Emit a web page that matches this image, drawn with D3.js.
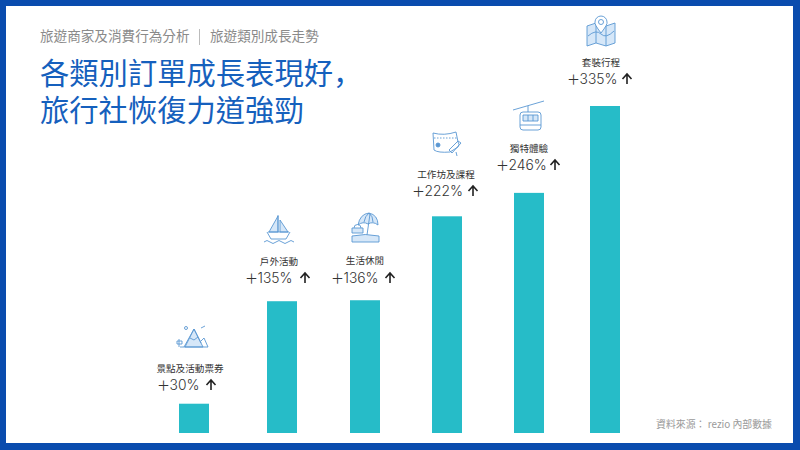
<!DOCTYPE html>
<html lang="zh-Hant">
<head>
<meta charset="utf-8">
<script src="https://cdn.jsdelivr.net/npm/d3@7/dist/d3.min.js"></script>
<style>
html,body{margin:0;padding:0;background:#fff}
svg{display:block}
text{font-family:"Noto Sans CJK TC","Noto Sans",sans-serif}
.num{font-family:Inter,Roboto,sans-serif;font-weight:400}
</style>
</head>
<body>
<svg id="c" width="800" height="450"></svg>
<script>
const categories = ["景點及活動票券","戶外活動","生活休閒","工作坊及課程","獨特體驗","套裝行程"];
const growth = [30,135,136,222,246,335];
const valueLabels = ["30%","135%","136%","222%","246%","335%"];
const iconNames = ["mountain","boat","umbrella","ticket","cable","map"];

const barLeft = [179,267,350,432,514,590];
const labelCenter = [190,279,365,446,529,601];
const labelBaseline = [372,265,264,178,152,66];
const valueBaseline = [390,283,283,196,170,84];
const valueStart = [158,246,332,413,497,568];
const arrowCenter = [211,305,390,473,555,627];
const iconBox = [[177,326],[264,214],[351,213],[432,130],[513,102],[586,16]];

const W=800,H=450;
const svg=d3.select("#c");
svg.append("rect").attr("width",W).attr("height",H).attr("fill","#0a4cae");
svg.append("rect").attr("x",6).attr("y",6).attr("width",787).attr("height",437).attr("fill","#fff");

const y=d3.scaleLinear().domain([0,335]).range([433,106]);
const x=d3.scaleOrdinal().domain(categories).range(barLeft);
const barW=30;

svg.append("g").selectAll("rect").data(categories).join("rect")
  .attr("x",d=>x(d)).attr("width",barW)
  .attr("y",(d,i)=>y(growth[i])).attr("height",(d,i)=>y(0)-y(growth[i]))
  .attr("fill","#26bcc8");

// titles
svg.append("text").attr("x",40).attr("y",41).attr("font-size",13.6).attr("fill","#8a8a8a").text("旅遊商家及消費行為分析");
svg.append("line").attr("x1",199.5).attr("x2",199.5).attr("y1",29).attr("y2",45).attr("stroke","#bbb");
svg.append("text").attr("x",210).attr("y",41).attr("font-size",13.6).attr("fill","#8a8a8a").text("旅遊類別成長走勢");
const t1=svg.append("text").attr("font-size",29.3).attr("fill","#1560bd");
t1.append("tspan").attr("x",40).attr("y",84).text("各類別訂單成長表現好");
t1.append("tspan").attr("lang","zh-Hans").style("font-family",'"Noto Sans CJK SC"').text("，");
t1.append("tspan").attr("x",40).attr("y",121).text("旅行社恢復力道強勁");

// labels
svg.append("g").selectAll("text").data(categories).join("text")
  .attr("x",(d,i)=>labelCenter[i]).attr("y",(d,i)=>labelBaseline[i])
  .attr("text-anchor","middle").attr("font-size",9.6).attr("fill","#333").text(d=>d);
const vals=svg.append("g").selectAll("text").data(valueLabels).join("text")
  .attr("x",(d,i)=>valueStart[i]).attr("y",(d,i)=>valueBaseline[i]).attr("fill","#333");
vals.append("tspan").attr("font-size",13).attr("dx",-1).text("＋");
vals.append("tspan").attr("class","num").attr("font-size",13.8).attr("dx",-0.5).style("font-weight",300).text(d=>d);
svg.append("g").selectAll("path").data(categories).join("path")
  .attr("transform",(d,i)=>`translate(${arrowCenter[i]},${valueBaseline[i]})`)
  .attr("d","M0,0V-9M-4.5,-5L0,-10L4.5,-5")
  .attr("fill","none").attr("stroke","#222").attr("stroke-width",1.6);

// source
svg.append("text").attr("x",772).attr("y",428).attr("text-anchor","end").attr("font-size",9.9).attr("fill","#9a9a9a").text("資料來源： rezio 內部數據");

// icons (30×30 local box)
const ln="#5a97d2", fl="#d6e7f8";
const icons={
 mountain:g=>{
  g.append("path").attr("d","M8,21L17,3L26,21Z").attr("fill",fl);
  g.append("path").attr("d","M7,21L17,3L24,17M24,15L27,12L31,21H3M13,12L17,14L21,11");
  g.append("circle").attr("cx",9).attr("cy",2).attr("r",1.5);
  g.append("path").attr("d","M24,2L28,0M2,13V21M0,15H5V18H0Z");
 },
 boat:g=>{
  g.append("path").attr("d","M14,2L5,18H14ZM16,6L24,18H16Z").attr("fill",fl);
  g.append("path").attr("d","M14,1L14,18M4,18H25M3,18L7,25H22L26,18M0,28Q3,25 6,28T12,28T18,28T24,28T30,28");
 },
 umbrella:g=>{
  g.append("path").attr("d","M7,12Q9,1 18,0Q27,2 27,12Q22,8 17,11Q12,8 7,12Z").attr("fill",fl);
  g.append("path").attr("d","M13,9Q14,3 18,0Q22,3 22,9M19,1L16,22");
  g.append("path").attr("d","M1,15H12V20H1Z").attr("fill",fl);
  g.append("path").attr("d","M3,15A3.5,3.5 0 0 1 10,15");
  g.append("path").attr("d","M1,23Q14,20 28,23V29H1Z").attr("fill",fl);
 },
 ticket:g=>{
  g.append("path").attr("d","M1,3Q12,6 24,2L26,12Q28,14 26,17L18,22Q6,23 2,20Z").attr("fill","#fff");
  g.append("path").attr("d","M2,8H25").attr("stroke-dasharray","1.5 1.5");
  g.append("circle").attr("cx",6).attr("cy",15).attr("r",2).attr("fill",ln);
  g.append("path").attr("d","M17,20L26,11L29,13L20,23ZM24,22L25,26");
 },
 cable:g=>{
  g.append("path").attr("d","M0,8L31,-1M15,4V10");
  g.append("rect").attr("x",7).attr("y",10).attr("width",21).attr("height",18).attr("rx",3).attr("fill","#fff");
  g.append("path").attr("d","M10,13H25V19H10Z").attr("fill",fl);
  g.append("path").attr("d","M15,13V19M20,13V19M7,23H28");
 },
 map:g=>{
  g.append("path").attr("d","M1,10L10,7L20,10L29,7V27L20,30L10,27L1,30Z").attr("fill",fl);
  g.append("path").attr("d","M10,7V27M20,10V30M2,20Q10,13 15,18T28,15").attr("fill","none");
  g.append("path").attr("d","M15,17Q8,8 9,6A6,6 0 0 1 21,6Q22,8 15,17Z").attr("fill","#fff");
  g.append("circle").attr("cx",15).attr("cy",6).attr("r",2.5);
 }
};
iconNames.forEach((n,i)=>{
  const g=svg.append("g").attr("transform",`translate(${iconBox[i][0]},${iconBox[i][1]})`)
    .attr("fill","none").attr("stroke",ln).attr("stroke-width",0.9);
  icons[n](g);
});
</script>
</body>
</html>
